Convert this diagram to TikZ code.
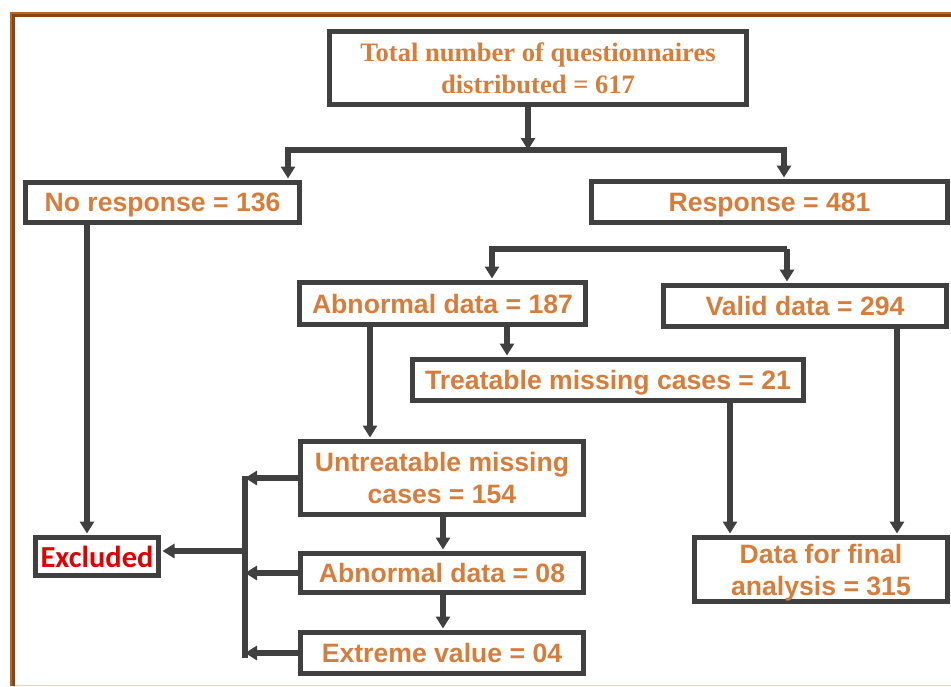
\documentclass[tikz,border=0pt]{standalone}
\usepackage{fontspec}
\setmainfont{Liberation Sans}
\newfontfamily\timesf{Liberation Serif}
\newfontfamily\carl{Carlito}
\usetikzlibrary{arrows.meta}
\definecolor{txt}{RGB}{215,125,60}
\definecolor{lnc}{RGB}{64,64,64}
\definecolor{exred}{RGB}{224,0,0}
\definecolor{frm}{RGB}{135,68,22}
\definecolor{frmlight}{RGB}{185,100,40}
\definecolor{beige}{RGB}{225,212,195}
\begin{document}
\begin{tikzpicture}[x=1pt,y=-1pt,
  box/.style={draw=lnc, line width=5pt, fill=white, inner sep=0pt, align=center,
    text=txt, font=\fontsize{26.6}{32}\selectfont\bfseries},
  onebox/.style={box, text depth=0pt},
  arr/.style={draw=lnc, line width=5.5pt, shorten >=1.5pt, -{Triangle[width=14pt,length=12pt]}},
  bar/.style={draw=lnc, line width=5.5pt}]
\useasboundingbox (0,0) rectangle (951,686);
% frame
\draw[frm, line width=5pt] (12.5,686) -- (12.5,14.5) -- (951,14.5);
\draw[frmlight, line width=1.5pt] (10.75,686) -- (10.75,12.75) -- (951,12.75);
\draw[beige, line width=1.5pt] (15,685.3) -- (951,685.3);
% nodes
\node[box, minimum width=417pt, minimum height=73pt,
  font=\fontsize{26.6}{32}\selectfont\timesf\bfseries] (total) at (538,68)
  {Total number of questionnaires\\distributed = 617};
\node[onebox, minimum width=274pt, minimum height=40pt] (nores) at (162.5,202.5) {No response = 136};
\node[onebox, minimum width=356pt, minimum height=41pt] (resp) at (769.5,202) {Response = 481};
\node[onebox, minimum width=286pt, minimum height=42pt] (abn) at (442.5,303.5) {Abnormal data = 187};
\node[onebox, minimum width=283pt, minimum height=41pt] (valid) at (805,306) {Valid data = 294};
\node[onebox, minimum width=391pt, minimum height=41pt] (treat) at (608,380) {Treatable missing cases = 21};
\node[box, minimum width=283pt, minimum height=73pt] (untreat) at (442,478) {Untreatable missing\\cases = 154};
\node[onebox, minimum width=283pt, minimum height=39pt] (abn08) at (442,573) {Abnormal data = 08};
\node[onebox, minimum width=283pt, minimum height=41pt] (extreme) at (442,653) {Extreme value = 04};
\node[onebox, minimum width=123pt, minimum height=38pt, text=exred,
  font=\fontsize{30.5}{32}\selectfont\carl\bfseries] (excl) at (97,556.5) {Excluded};
\node[box, text depth=0pt, minimum width=253pt, minimum height=64pt] (final) at (821,569.5) {Data for final\\analysis = 315};
% coordinates
\coordinate (b1) at (528,150);
\coordinate (bl) at (288,150);
\coordinate (br) at (784,150);
\coordinate (ex) at (87,0);
\coordinate (rb1) at (492,249);
\coordinate (rb2) at (787,249);
\coordinate (at) at (507,0);
\coordinate (au) at (370,0);
\coordinate (tf) at (730,0);
\coordinate (vf) at (897,0);
\coordinate (uc) at (443,0);
\coordinate (bt) at (245,476);
\coordinate (bb) at (245,658);
\coordinate (bm) at (245,551);
% connectors
\draw[arr, shorten >=0pt] (total.south -| b1) -- (b1);
\draw[arr] (b1) -| (bl |- nores.north);
\draw[arr] (b1) -| (br |- resp.north);
\draw[arr] (nores.south -| ex) -- (excl.north -| ex);
\draw[arr] (rb2) -| (abn.north -| rb1);
\draw[arr] (rb2) -- (valid.north -| rb2);
\draw[arr] (abn.south -| at) -- (treat.north -| at);
\draw[arr] (abn.south -| au) -- (untreat.north -| au);
\draw[arr] (treat.south -| tf) -- (final.north -| tf);
\draw[arr] (valid.south -| vf) -- (final.north -| vf);
\draw[arr] (untreat.south -| uc) -- (abn08.north -| uc);
\draw[arr] (abn08.south -| uc) -- (extreme.north -| uc);
\draw[bar] (bt) -- (bb);
\draw[arr, shorten >=0pt] (untreat.west) -- (untreat.west -| bt);
\draw[arr, shorten >=0pt] (abn08.west) -- (abn08.west -| bt);
\draw[arr, shorten >=0pt] (extreme.west) -- (extreme.west -| bt);
\draw[arr] (bm) -- (bm -| excl.east);
\end{tikzpicture}
\end{document}
